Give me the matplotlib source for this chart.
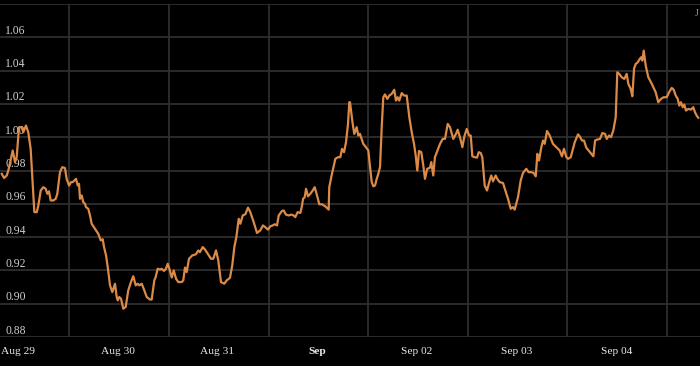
import matplotlib
matplotlib.use("Agg")
import matplotlib.pyplot as plt
from matplotlib.transforms import blended_transform_factory

# time in days since Aug 29 00:00 (label centres), values of the series
days = [-0.153, -0.130, -0.103, -0.087, -0.043, -0.020, -0.003, 0.020, 0.047, 0.063,
        0.090, 0.113, 0.137, 0.153, 0.174, 0.198, 0.214, 0.238, 0.264, 0.288,
        0.304, 0.321, 0.338, 0.364, 0.388, 0.404, 0.431, 0.454, 0.481, 0.498,
        0.522, 0.542, 0.559, 0.575, 0.592, 0.609, 0.622, 0.632, 0.649, 0.665,
        0.682, 0.692, 0.715, 0.732, 0.749, 0.782, 0.815, 0.840, 0.860, 0.873,
        0.893, 0.910, 0.933, 0.956, 0.983, 1.000, 1.010, 1.026, 1.043, 1.066,
        1.090, 1.116, 1.143, 1.166, 1.191, 1.211, 1.227, 1.251, 1.277, 1.301,
        1.334, 1.351, 1.377, 1.391, 1.411, 1.434, 1.451, 1.474, 1.494, 1.512,
        1.528, 1.552, 1.572, 1.595, 1.618, 1.652, 1.668, 1.685, 1.702, 1.725,
        1.758, 1.795, 1.818, 1.835, 1.863, 1.886, 1.913, 1.946, 1.969, 1.996,
        2.019, 2.046, 2.079, 2.103, 2.136, 2.159, 2.180, 2.200, 2.224, 2.240,
        2.264, 2.290, 2.317, 2.340, 2.374, 2.407, 2.440, 2.467, 2.490, 2.518,
        2.541, 2.565, 2.585, 2.608, 2.625, 2.658, 2.675, 2.698, 2.725, 2.751,
        2.775, 2.791, 2.815, 2.842, 2.859, 2.869, 2.886, 2.899, 2.919, 2.942,
        2.966, 2.986, 3.009, 3.032, 3.059, 3.092, 3.126, 3.132, 3.159, 3.193,
        3.220, 3.243, 3.260, 3.280, 3.300, 3.320, 3.333, 3.340, 3.367, 3.383,
        3.407, 3.423, 3.440, 3.457, 3.473, 3.500, 3.524, 3.541, 3.558, 3.574,
        3.591, 3.608, 3.624, 3.641, 3.658, 3.674, 3.691, 3.714, 3.734, 3.758,
        3.784, 3.801, 3.818, 3.834, 3.859, 3.882, 3.909, 3.935, 3.959, 3.982,
        3.999, 4.015, 4.032, 4.055, 4.075, 4.092, 4.115, 4.142, 4.155, 4.175,
        4.192, 4.216, 4.243, 4.270, 4.293, 4.320, 4.343, 4.376, 4.403, 4.420,
        4.443, 4.467, 4.487, 4.511, 4.534, 4.551, 4.567, 4.591, 4.614, 4.631,
        4.651, 4.667, 4.691, 4.714, 4.741, 4.757, 4.774, 4.801, 4.817, 4.841,
        4.875, 4.898, 4.925, 4.952, 4.975, 4.992, 5.025, 5.052, 5.075, 5.108,
        5.132, 5.158, 5.182, 5.203, 5.219, 5.236, 5.259, 5.276, 5.293, 5.316,
        5.343, 5.376, 5.409, 5.443, 5.466, 5.486, 5.510, 5.527, 5.554, 5.594,
        5.627, 5.644, 5.667, 5.687, 5.710, 5.747, 5.781, 5.798, 5.815, 5.848,
        5.871, 5.898, 5.915, 5.938, 5.958, 5.981, 6.005, 6.021, 6.041, 6.065,
        6.091, 6.115, 6.132, 6.155, 6.172, 6.189, 6.206, 6.226, 6.242, 6.259,
        6.272, 6.286, 6.306, 6.332, 6.359, 6.382, 6.406, 6.432, 6.459, 6.486,
        6.517, 6.540, 6.567, 6.587, 6.607, 6.627, 6.643, 6.660, 6.677, 6.693,
        6.710, 6.733, 6.760, 6.783, 6.800, 6.817, 6.833]

values = [0.978, 0.9755, 0.977, 0.980, 0.992, 0.985, 0.988, 1.006, 1.006, 1.003,
          1.007, 1.003, 0.993, 0.977, 0.955, 0.955, 0.959, 0.968, 0.970, 0.969,
          0.966, 0.9675, 0.962, 0.962, 0.963, 0.966, 0.979, 0.982, 0.9815, 0.975,
          0.971, 0.973, 0.973, 0.974, 0.975, 0.971, 0.972, 0.963, 0.965, 0.961,
          0.960, 0.958, 0.957, 0.953, 0.948, 0.945, 0.942, 0.938, 0.9387, 0.934,
          0.929, 0.922, 0.911, 0.907, 0.912, 0.904, 0.902, 0.904, 0.903, 0.897,
          0.898, 0.908, 0.913, 0.9165, 0.911, 0.912, 0.911, 0.912, 0.908, 0.904,
          0.9025, 0.9025, 0.914, 0.916, 0.921, 0.9205, 0.921, 0.9197, 0.921, 0.924,
          0.921, 0.9157, 0.920, 0.915, 0.913, 0.913, 0.914, 0.9217, 0.919, 0.927,
          0.929, 0.9297, 0.932, 0.931, 0.934, 0.9325, 0.930, 0.927, 0.927, 0.932,
          0.926, 0.913, 0.912, 0.914, 0.9155, 0.923, 0.934, 0.940, 0.951, 0.948,
          0.953, 0.9537, 0.9577, 0.955, 0.949, 0.9425, 0.944, 0.947, 0.946, 0.9445,
          0.9465, 0.947, 0.9477, 0.947, 0.953, 0.9557, 0.956, 0.9535, 0.953, 0.9535,
          0.953, 0.952, 0.955, 0.9545, 0.959, 0.963, 0.964, 0.969, 0.9645, 0.966,
          0.968, 0.970, 0.965, 0.9597, 0.9597, 0.9585, 0.9565, 0.970, 0.978, 0.987,
          0.988, 0.988, 0.993, 0.991, 0.997, 1.008, 1.021, 1.021, 1.008, 1.002,
          1.006, 1.001, 1.002, 0.999, 0.996, 0.994, 0.992, 0.982, 0.973, 0.9705,
          0.971, 0.975, 0.978, 0.982, 1.006, 1.024, 1.0257, 1.023, 1.025, 1.026,
          1.0285, 1.022, 1.024, 1.022, 1.0265, 1.025, 1.025, 1.012, 1.003, 0.996,
          0.989, 0.980, 0.9917, 0.991, 0.983, 0.975, 0.981, 0.9817, 0.985, 0.977,
          0.988, 0.9917, 0.996, 0.999, 0.999, 1.008, 1.006, 0.999, 1.002, 1.0045,
          1.000, 0.994, 1.0005, 1.005, 1.001, 1.001, 0.9885, 0.988, 0.9877, 0.991,
          0.9905, 0.988, 0.971, 0.968, 0.974, 0.977, 0.9735, 0.977, 0.975, 0.973,
          0.9725, 0.968, 0.963, 0.957, 0.958, 0.9565, 0.964, 0.974, 0.9785, 0.981,
          0.979, 0.979, 0.9785, 0.9765, 0.990, 0.986, 0.994, 0.998, 0.996, 1.0037,
          1.001, 0.996, 0.994, 0.992, 0.9885, 0.993, 0.988, 0.987, 0.988, 0.997,
          1.0017, 1.0005, 0.998, 0.998, 0.9937, 0.991, 0.9885, 0.998, 0.9985, 0.999,
          1.0025, 1.002, 0.999, 1.001, 1.000, 1.004, 1.012, 1.039, 1.038, 1.036,
          1.035, 1.038, 1.032, 1.029, 1.0246, 1.0412, 1.044, 1.045, 1.0466, 1.048,
          1.046, 1.052, 1.043, 1.036, 1.033, 1.030, 1.027, 1.021, 1.023, 1.024,
          1.024, 1.027, 1.0296, 1.0285, 1.025, 1.023, 1.019, 1.021, 1.018, 1.0196,
          1.016, 1.017, 1.0166, 1.018, 1.015, 1.013, 1.0117]

x_labels = ["Aug 29", "Aug 30", "Aug 31", "Sep", "Sep 02", "Sep 03", "Sep 04"]
x_label_pos = [0, 1, 2, 3, 4, 5, 6]
x_grid_pos = [0.525, 1.525, 2.525, 3.52, 4.52, 5.52, 6.52]
y_ticks = [0.88, 0.90, 0.92, 0.94, 0.96, 0.98, 1.00, 1.02, 1.04, 1.06]
y_grid = [0.88, 0.90, 0.92, 0.94, 0.96, 0.98, 1.00, 1.02, 1.04, 1.06, 1.08]

plt.rcParams['font.family'] = ['Liberation Serif', 'DejaVu Serif']

fig = plt.figure(figsize=(7.0, 3.66), dpi=100, facecolor='black')
ax = fig.add_axes([0.0, 29 / 366, 1.0, 333 / 366])
ax.set_facecolor('black')
for s in ax.spines.values():
    s.set_visible(False)

ax.set_xlim(-0.1705, 6.8505)
ax.set_ylim(0.88, 1.08)

grid_c = '#2e2e2e'
for yv in y_grid:
    ax.axhline(yv, color=grid_c, lw=1.3, zorder=1)
for xv in x_grid_pos:
    ax.axvline(xv, color=grid_c, lw=1.3, zorder=1)

ax.plot(days, values, color='#dc8a47', lw=1.6, zorder=3, solid_joinstyle='round')

ax.set_xticks([])
ax.set_yticks([])

tr = blended_transform_factory(fig.transFigure, ax.transData)
for yv in y_ticks:
    ax.text(5 / 700, yv + 0.0003, f"{yv:.2f}", transform=tr, color='#cfcfcf',
            fontsize=8.4, ha='left', va='bottom', zorder=2)

trx = blended_transform_factory(ax.transData, fig.transFigure)
for xp, lab in zip(x_label_pos, x_labels):
    ax.text(xp + 0.01, 1 - 351 / 366, lab, transform=trx, color='#e8e8e8', fontsize=8.2,
            ha='center', va='center', fontweight='bold' if lab == 'Sep' else 'normal',
            clip_on=False)

fig.text(695 / 700, 1 - 14 / 366, "J", color='#9a9a9a', fontsize=7, ha='left', va='center')

fig.savefig('out.png', dpi=100, facecolor='black')
